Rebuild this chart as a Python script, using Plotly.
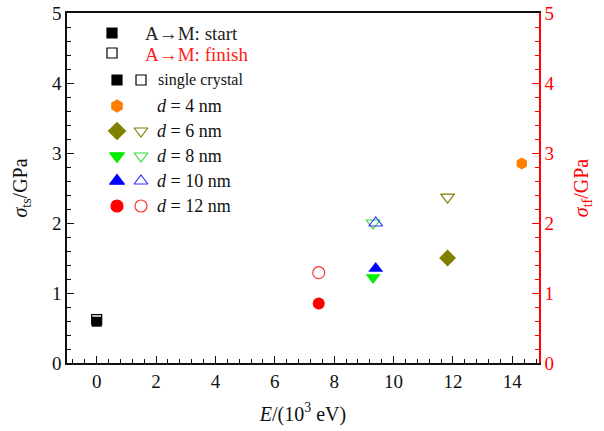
import plotly.graph_objects as go

# ---- data ----
groups = ["single crystal", "d = 4 nm", "d = 6 nm", "d = 8 nm", "d = 10 nm", "d = 12 nm"]
energy = [0.0, 14.32, 11.82, 9.31, 9.40, 7.48]          # E / (10^3 eV)
sigma_start = [0.59, 2.85, 1.50, 1.22, 1.35, 0.85]       # sigma_ts / GPa
sigma_finish = [0.62, None, 2.37, 2.00, 2.00, 1.29]      # sigma_tf / GPa

fill_symbols = ["square", "hexagon", "diamond", "triangle-down", "triangle-up", "circle"]
open_symbols = ["square-open", None, "triangle-down-open", "triangle-down-open", "triangle-up-open", "circle-open"]
fill_colors = ["#000000", "#ff8000", "#808000", "#00ee00", "#0000ff", "#ff0000"]
open_colors = ["#000000", None, "#808000", "#33dd33", "#3333ff", "#ff3333"]
fill_sizes = [10, 12, 13, 13, 13, 12]
open_sizes = [10, 0, 12, 12, 12, 12]

x_ticks = [0, 2, 4, 6, 8, 10, 12, 14]
y_ticks = [0, 1, 2, 3, 4, 5]

FONT = "'Liberation Serif', 'Times New Roman', 'DejaVu Serif', serif"

fig = go.Figure()

# open (finish) markers first
for i, g in enumerate(groups):
    if sigma_finish[i] is None:
        continue
    fig.add_trace(go.Scatter(
        x=[energy[i]], y=[sigma_finish[i]], mode="markers", showlegend=False,
        marker=dict(symbol=open_symbols[i], size=open_sizes[i], color=open_colors[i],
                    line=dict(width=1.2, color=open_colors[i])),
        yaxis="y2"))
for i, g in enumerate(groups):
    fig.add_trace(go.Scatter(
        x=[energy[i]], y=[sigma_start[i]], mode="markers", showlegend=False,
        marker=dict(symbol=fill_symbols[i], size=fill_sizes[i], color=fill_colors[i],
                    line=dict(width=0))))

# ---- manual legend on a hidden pixel-scaled overlay axis ----
L, R, T, B = 67, 539, 13, 363
def lg(px, py, sym, col, size):
    fig.add_trace(go.Scatter(
        x=[px], y=[py], mode="markers", showlegend=False, xaxis="x3", yaxis="y3",
        marker=dict(symbol=sym, size=size, color=col, line=dict(width=1.2, color=col)),
        hoverinfo="skip"))

lg(112, 33, "square", "#000000", 10)
lg(112, 53, "square-open", "#000000", 10)
row_y = [80, 106, 131, 156, 181, 206]
for i, g in enumerate(groups):
    lg(117, row_y[i], fill_symbols[i], fill_colors[i], fill_sizes[i])
    if open_symbols[i] is not None:
        lg(141, row_y[i], open_symbols[i], open_colors[i], open_sizes[i])

anns = [
    dict(x=143, y=33, text="A\u2192M: start", font=dict(size=19, color="#222222", family=FONT)),
    dict(x=143, y=54, text="A\u2192M: finish", font=dict(size=19, color="#ff2020", family=FONT)),
    dict(x=156, y=80, text="single crystal", font=dict(size=16, color="#111111", family=FONT)),
]
for i, g in enumerate(groups[1:], start=1):
    num = g.split("=")[1].strip()
    anns.append(dict(x=155, y=row_y[i], text="<i>d</i> = " + num,
                     font=dict(size=18, color="#111111", family=FONT)))
for a in anns:
    a.update(xref="x3", yref="y3", xanchor="left", yanchor="middle", showarrow=False)

fig.update_layout(
    width=604, height=431,
    margin=dict(l=L, r=604 - R, t=T, b=431 - B, autoexpand=False),
    paper_bgcolor="white", plot_bgcolor="white",
    font=dict(family=FONT, size=18, color="#111111"),
    annotations=anns,
    xaxis=dict(range=[-1, 14.9], tickvals=x_ticks, ticks="inside", ticklen=7, tickwidth=1.2,
               showline=True, linecolor="#111111", linewidth=1.5, mirror=True,
               showgrid=False, zeroline=False, automargin=False,
               minor=dict(dtick=0.4, tick0=0, ticks="inside", ticklen=4, tickwidth=1.2, tickcolor="#111111"),
               tickcolor="#111111", tickfont=dict(size=19, family=FONT),
               title=dict(text="<i>E</i>/(10<sup>3</sup> eV)", font=dict(size=20, family=FONT), standoff=16)),
    yaxis=dict(range=[0, 5], tickvals=y_ticks, ticks="inside", ticklen=7, tickwidth=1.2,
               showline=True, linecolor="#111111", linewidth=1.5, showgrid=False, zeroline=False,
               automargin=False,
               minor=dict(dtick=0.2, ticks="inside", ticklen=4, tickwidth=1.2, tickcolor="#111111"),
               tickcolor="#111111", tickfont=dict(size=19, family=FONT),
               title=dict(text="<i>σ</i><sub>ts</sub>/GPa", font=dict(size=20, family=FONT), standoff=19)),
    yaxis2=dict(range=[0, 5], tickvals=y_ticks, ticks="inside", ticklen=7, tickwidth=1.2,
                overlaying="y", side="right", anchor="x", automargin=False,
                showline=True, linecolor="#ff0000", linewidth=1.5, showgrid=False, zeroline=False,
                minor=dict(dtick=0.2, ticks="inside", ticklen=4, tickwidth=1.2, tickcolor="#ff0000"),
                tickcolor="#ff0000", tickfont=dict(size=19, family=FONT, color="#ff0000"),
                title=dict(text="<i>σ</i><sub>tf</sub>/GPa", font=dict(size=20, family=FONT, color="#ff0000"), standoff=20)),
    xaxis3=dict(range=[L, R], domain=[0, 1], anchor="y3", overlaying="x", visible=False, fixedrange=True),
    yaxis3=dict(range=[B, T], domain=[0, 1], anchor="x3", overlaying="y", visible=False, fixedrange=True),
)

fig.write_html("out.html")
